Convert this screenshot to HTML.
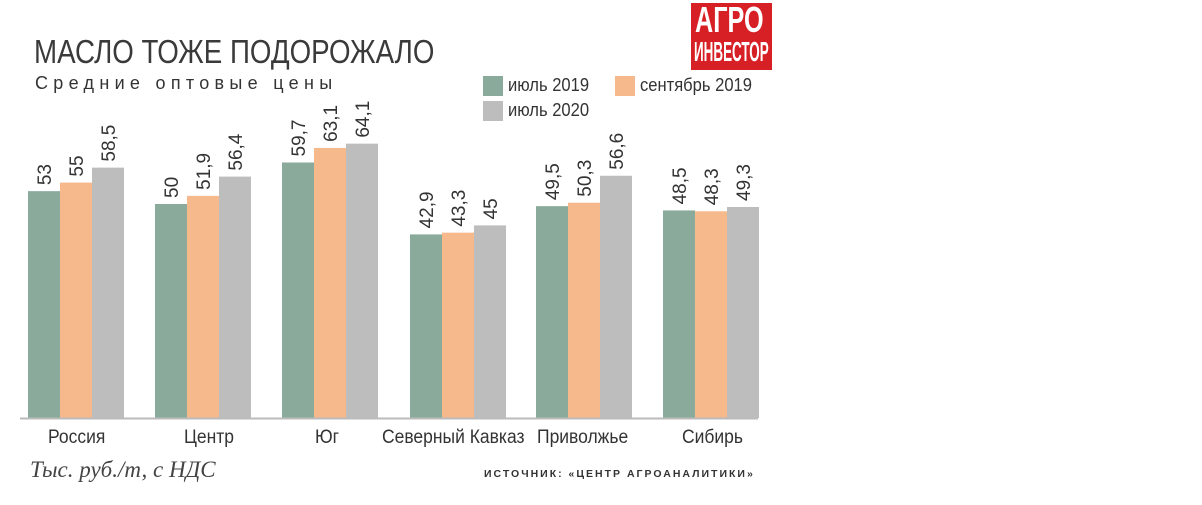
<!DOCTYPE html>
<html><head><meta charset="utf-8"><style>
body{margin:0;width:1202px;height:505px;background:#fff;position:relative;overflow:hidden;font-family:"Liberation Sans",sans-serif;color:#333}
.a{position:absolute;white-space:nowrap;transform-origin:0 0}
.n{transform:scaleX(0.92)}
</style></head><body>
<div class="a" style="left:34px;top:33px;font-size:33px;color:#3a3a3a;transform:scaleX(0.84)">МАСЛО ТОЖЕ ПОДОРОЖАЛО</div>
<div class="a" style="left:35px;top:73px;font-size:18px;letter-spacing:5.3px;color:#333">Средние оптовые цены</div>
<div class="a" style="left:691px;top:3px;width:81px;height:67px;background:#d71f26;overflow:hidden"></div>
<div class="a" style="left:695px;top:2px;font-size:36px;font-weight:bold;color:#fff;line-height:36px;transform:scaleX(0.7)">АГРО</div>
<div class="a" style="left:694px;top:36px;font-size:28px;font-weight:bold;color:#fff;line-height:32px;transform:scaleX(0.48)">ИНВЕСТОР</div>
<div class="a" style="left:483px;top:76px;width:20px;height:20px;background:#8aab9c"></div>
<div class="a n" style="left:508px;top:75px;font-size:18px">июль 2019</div>
<div class="a" style="left:615px;top:76px;width:20px;height:20px;background:#f5b98c"></div>
<div class="a n" style="left:640px;top:75px;font-size:18px">сентябрь 2019</div>
<div class="a" style="left:483px;top:101px;width:20px;height:20px;background:#bdbdbd"></div>
<div class="a n" style="left:508px;top:100px;font-size:18px">июль 2020</div>
<svg class="a" style="left:0;top:0" width="1202" height="505">
<g id="bars"></g>
<line x1="20" y1="418.5" x2="758" y2="418.5" stroke="#bbb" stroke-width="2"/>
</svg>
<div class="a n" style="left:48px;top:427px;font-size:19px">Россия</div>
<div class="a n" style="left:184px;top:427px;font-size:19px">Центр</div>
<div class="a n" style="left:315px;top:427px;font-size:19px">Юг</div>
<div class="a n" style="left:382px;top:427px;font-size:19px">Северный Кавказ</div>
<div class="a n" style="left:537px;top:427px;font-size:19px">Приволжье</div>
<div class="a n" style="left:682px;top:427px;font-size:19px">Сибирь</div>
<div class="a" style="left:30px;top:457px;font-size:23px;font-style:italic;font-family:'Liberation Serif',serif;color:#444">Тыс. руб./т, с НДС</div>
<div class="a" style="left:484px;top:468px;font-size:10.5px;font-weight:bold;letter-spacing:2px">ИСТОЧНИК: «ЦЕНТР АГРОАНАЛИТИКИ»</div>
<script>
var d=[[53,55,58.5],[50,51.9,56.4],[59.7,63.1,64.1],[42.9,43.3,45],[49.5,50.3,56.6],[48.5,48.3,49.3]];
var xs=[28,155,282,410,536,663],c=["#8aab9c","#f5b98c","#bdbdbd"],s="";
d.forEach(function(g,i){g.forEach(function(v,j){var x=xs[i]+j*32,t=418-v*4.28;
s+='<rect x="'+x+'" y="'+t+'" width="32" height="'+(418-t)+'" fill="'+c[j]+'"/>';
var lab=String(v).replace(".",",");
s+='<text transform="translate('+(x+23)+','+(t-6)+') rotate(-90)" font-family="Liberation Sans,sans-serif" font-size="19" fill="#333">'+lab+'</text>';});});
document.getElementById("bars").innerHTML=s;
</script>
</body></html>
